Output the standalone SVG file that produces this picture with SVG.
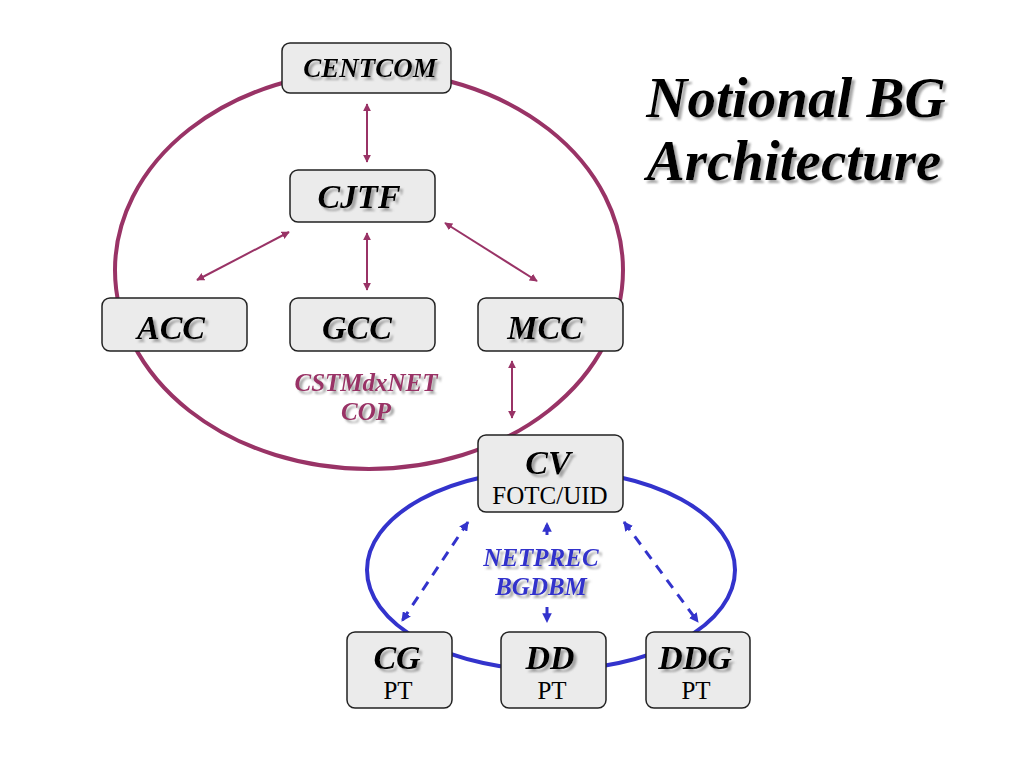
<svg xmlns="http://www.w3.org/2000/svg" width="1024" height="768" viewBox="0 0 1024 768">
<style>
.box{fill:#ebebeb;stroke:#222;stroke-width:1.5}
.t{font-family:"Liberation Serif","Times New Roman",serif;text-anchor:middle}
.bi{font-weight:bold;font-style:italic;filter:url(#sh)}
.k{fill:#000}
.m{fill:#993366}
.b{fill:#3333cc}
.ma{stroke:#993366;stroke-width:2;fill:none;marker-start:url(#mh);marker-end:url(#mh)}
.ba{stroke:#3333cc;stroke-width:3;fill:none;stroke-dasharray:10 8}
</style>
<defs>
<filter id="sh" x="-10%" y="-20%" width="130%" height="150%">
<feOffset in="SourceAlpha" dx="3" dy="3" result="o"/>
<feGaussianBlur in="o" stdDeviation="0.8" result="b"/>
<feFlood flood-color="#8a8a8a" flood-opacity="0.75"/>
<feComposite in2="b" operator="in" result="s"/>
<feMerge><feMergeNode in="s"/><feMergeNode in="SourceGraphic"/></feMerge>
</filter>
<marker id="mh" viewBox="0 0 10 10" refX="9" refY="5" markerWidth="4" markerHeight="4" orient="auto-start-reverse"><path d="M0,0 L10,5 L0,10 z" fill="#993366"/></marker>
<marker id="bh" viewBox="0 0 10 10" refX="9" refY="5" markerWidth="3.2" markerHeight="3.2" orient="auto-start-reverse"><path d="M0,0 L10,5 L0,10 z" fill="#3333cc"/></marker>
</defs>
<rect width="1024" height="768" fill="#fff"/>
<g id="rings">
<ellipse cx="369" cy="270" rx="254" ry="199" fill="none" stroke="#993366" stroke-width="4"/>
<ellipse cx="551" cy="570" rx="184" ry="100" fill="none" stroke="#3333cc" stroke-width="4"/>
</g>
<g id="connectors">
<line class="ma" x1="367" y1="104" x2="367" y2="162"/>
<line class="ma" x1="289" y1="232" x2="197" y2="280"/>
<line class="ma" x1="367" y1="233" x2="367" y2="290"/>
<line class="ma" x1="445" y1="223" x2="537" y2="281"/>
<line class="ma" x1="512" y1="361" x2="512" y2="418"/>
<line class="ba" x1="468" y1="522" x2="402" y2="621" marker-start="url(#bh)" marker-end="url(#bh)"/>
<line class="ba" x1="624" y1="522" x2="698" y2="622" marker-start="url(#bh)" marker-end="url(#bh)"/>
<line class="ba" x1="547" y1="535" x2="547" y2="523" marker-end="url(#bh)"/>
<line class="ba" x1="547" y1="607" x2="547" y2="622" stroke-dasharray="5 5" marker-end="url(#bh)"/>
</g>
<g id="centcom">
<rect class="box" x="282" y="43" width="169" height="50" rx="8"/>
<text class="t bi k" x="370" y="77" font-size="27">CENTCOM</text>
</g>
<g id="cjtf">
<rect class="box" x="290" y="170" width="145" height="52" rx="8"/>
<text class="t bi k" x="359" y="208" font-size="34">CJTF</text>
</g>
<g id="acc">
<rect class="box" x="102" y="298" width="145" height="53" rx="8"/>
<text class="t bi k" x="171" y="339" font-size="34">ACC</text>
</g>
<g id="gcc">
<rect class="box" x="290" y="298" width="145" height="53" rx="8"/>
<text class="t bi k" x="357" y="339" font-size="34">GCC</text>
</g>
<g id="mcc">
<rect class="box" x="478" y="298" width="145" height="53" rx="8"/>
<text class="t bi k" x="545" y="339" font-size="34">MCC</text>
</g>
<g id="cstm-label">
<text class="t bi m" x="366" y="391" font-size="25">CSTMdxNET</text>
<text class="t bi m" x="366" y="420" font-size="25">COP</text>
</g>
<g id="cv">
<rect class="box" x="478" y="435" width="145" height="77" rx="8"/>
<text class="t bi k" x="548" y="474" font-size="34">CV</text>
<text class="t k" x="550" y="504" font-size="25">FOTC/UID</text>
</g>
<g id="netprec-label">
<text class="t bi b" x="541" y="566" font-size="25">NETPREC</text>
<text class="t bi b" x="541" y="595" font-size="25">BGDBM</text>
</g>
<g id="cg">
<rect class="box" x="347" y="632" width="105" height="76" rx="8"/>
<text class="t bi k" x="397" y="669" font-size="34">CG</text>
<text class="t k" x="398" y="699" font-size="25">PT</text>
</g>
<g id="dd">
<rect class="box" x="501" y="632" width="105" height="76" rx="8"/>
<text class="t bi k" x="550" y="669" font-size="34">DD</text>
<text class="t k" x="552" y="699" font-size="25">PT</text>
</g>
<g id="ddg">
<rect class="box" x="646" y="632" width="104" height="76" rx="8"/>
<text class="t bi k" x="695" y="669" font-size="34">DDG</text>
<text class="t k" x="696" y="699" font-size="25">PT</text>
</g>
<g id="title">
<text class="t bi k" x="796" y="117" font-size="57">Notional BG</text>
<text class="t bi k" x="794" y="180" font-size="57">Architecture</text>
</g>
</svg>
